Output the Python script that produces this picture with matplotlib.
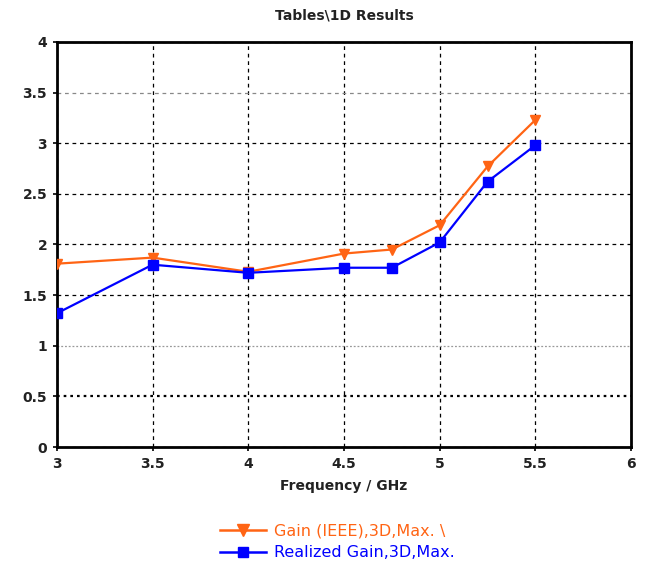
import matplotlib
matplotlib.use("Agg")
import matplotlib.pyplot as plt
from matplotlib.lines import Line2D

freq = [3.0, 3.5, 4.0, 4.5, 4.75, 5.0, 5.25, 5.5]
gain_ieee = [1.81, 1.87, 1.73, 1.91, 1.95, 2.19, 2.77, 3.23]
realized_gain = [1.32, 1.80, 1.72, 1.77, 1.77, 2.02, 2.62, 2.98]
xticks = [3, 3.5, 4, 4.5, 5, 5.5, 6]
yticks = [0, 0.5, 1, 1.5, 2, 2.5, 3, 3.5, 4]
xtick_labels = ["3", "3.5", "4", "4.5", "5", "5.5", "6"]
ytick_labels = ["0", "0.5", "1", "1.5", "2", "2.5", "3", "3.5", "4"]
labels = ["Gain (IEEE),3D,Max. \\", "Realized Gain,3D,Max."]
orange = "#FF6414"
blue = "#0000FF"

fig = plt.figure(figsize=(6.46, 5.69), dpi=100)
ax = fig.add_axes([0.088, 0.2144, 0.889, 0.712])

ax.plot(freq, gain_ieee, color=orange, lw=1.6, marker="v", ms=7.5, zorder=3)
ax.plot(freq, realized_gain, color=blue, lw=1.6, marker="s", ms=7.5, zorder=4)

ax.set_xlim(3, 6)
ax.set_ylim(0, 4)
ax.set_xticks(xticks)
ax.set_xticklabels(xtick_labels)
ax.set_yticks(yticks)
ax.set_yticklabels(ytick_labels)
ax.tick_params(direction="out", length=3, width=1.2, labelsize=10, pad=4)
for lab in ax.get_xticklabels() + ax.get_yticklabels():
    lab.set_fontweight("bold")
    lab.set_color("#222222")

ax.grid(True, color="black", lw=0.9, linestyle=(0, (3, 3)))
ygl = ax.get_ygridlines()
ygl[1].set_linestyle((0, (1.2, 1.8)))
ygl[1].set_linewidth(1.6)
ygl[2].set_color("#999999")
ygl[2].set_linestyle((0, (1.5, 1.5)))
ygl[7].set_color("#888888")
for sp in ax.spines.values():
    sp.set_linewidth(2)

ax.set_title("Tables\\1D Results", fontsize=10, fontweight="bold", color="#222222", pad=16)
ax.set_xlabel("Frequency / GHz", fontsize=10, fontweight="bold", color="#222222", labelpad=6)

handles = [Line2D([], [], color=orange, lw=1.8, marker="v", ms=8),
           Line2D([], [], color=blue, lw=1.8, marker="s", ms=7.5)]
leg = fig.legend(handles, labels, loc="center", bbox_to_anchor=(0.522, 0.048),
                 frameon=False, fontsize=11.5, handlelength=2.9, handletextpad=0.45,
                 labelspacing=0.45)
for t, c in zip(leg.get_texts(), [orange, blue]):
    t.set_color(c)

fig.savefig("out.png", dpi=100)
